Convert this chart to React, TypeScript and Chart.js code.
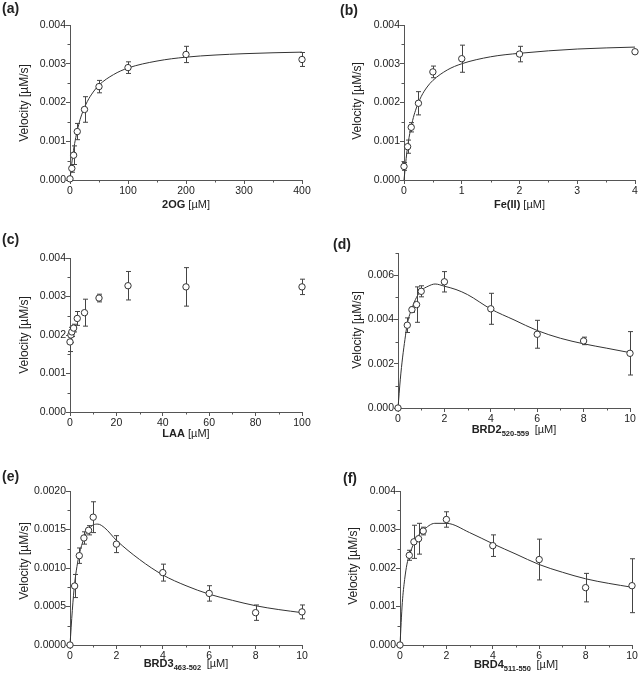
import { useEffect, useRef } from 'react'
import { Chart, registerables } from 'chart.js'

Chart.register(...registerables)

// (a) 2OG
const ogX = [0, 3.125, 6.25, 12.5, 25, 50, 100, 200, 400]
const ogV = [0.00003, 0.0003, 0.00064, 0.00125, 0.00182, 0.00241, 0.0029, 0.00324, 0.00311]
const ogSd = [0.00003, 0.0001, 0.00024, 0.00021, 0.00033, 0.00016, 0.00015, 0.00021, 0.00018]
const ogFitX = [0, 3, 6, 10, 15, 20, 30, 40, 50, 75, 100, 150, 200, 300, 400]
const ogFitV = [0, 0.00042, 0.00076, 0.0011, 0.00143, 0.00168, 0.00203, 0.00227, 0.00245, 0.00272, 0.00289, 0.00307, 0.00317, 0.00326, 0.0033]

// (b) Fe(II)
const feX = [0, 0.0625, 0.125, 0.25, 0.5, 1, 2, 4]
const feV = [0.00035, 0.00086, 0.00136, 0.00198, 0.00279, 0.00313, 0.00325, 0.00331]
const feSd = [0.0001, 0.00017, 0.00012, 0.0003, 0.00015, 0.00035, 0.0002, 0.00003]
const feFitX = [0, 0.05, 0.1, 0.15, 0.2, 0.3, 0.4, 0.5, 0.75, 1, 1.5, 2, 3, 4]
const feFitV = [0, 0.00072, 0.0012, 0.00154, 0.0018, 0.00216, 0.0024, 0.00257, 0.00284, 0.003, 0.00318, 0.00327, 0.00338, 0.00343]

// (c) LAA
const laaX = [0, 0.39, 0.78, 1.56, 3.125, 6.25, 12.5, 25, 50, 100]
const laaV = [0.00182, 0.002, 0.00208, 0.00218, 0.00243, 0.00258, 0.00296, 0.00328, 0.00325, 0.00325]
const laaSd = [0.00025, 0.0002, 0.00012, 0.0001, 0.00018, 0.00035, 0.0001, 0.00037, 0.0005, 0.0002]

// (d) BRD2 520-559
const brd2X = [0, 0.4, 0.6, 0.8, 1, 2, 4, 6, 8, 10]
const brd2V = [0, 0.00374, 0.00444, 0.00467, 0.00527, 0.0057, 0.00448, 0.00333, 0.00303, 0.00247]
const brd2Sd = [0, 0.00033, 0.00012, 0.0008, 0.00025, 0.00046, 0.0007, 0.00063, 0.00017, 0.00098]
const brd2FitX = [0, 0.1, 0.2, 0.3, 0.4, 0.6, 0.8, 1, 1.3, 1.6, 2, 2.5, 3, 4, 5, 6, 7, 8, 9, 10]
const brd2FitV = [0, 0.0013, 0.0023, 0.0031, 0.0038, 0.0045, 0.005, 0.0053, 0.0055, 0.0056, 0.0055, 0.00535, 0.00512, 0.00447, 0.00398, 0.0035, 0.00315, 0.0029, 0.0027, 0.0025]

// (e) BRD3 463-502
const brd3X = [0, 0.2, 0.4, 0.6, 0.8, 1, 2, 4, 6, 8, 10]
const brd3V = [0, 0.000766, 0.00116, 0.00139, 0.00149, 0.00166, 0.00131, 0.00094, 0.00067, 0.00042, 0.00043]
const brd3Sd = [0, 0.00015, 0.0001, 0.00008, 0.00006, 0.0002, 0.00011, 0.00011, 0.0001, 0.0001, 0.00009]
const brd3FitX = [0, 0.1, 0.2, 0.3, 0.4, 0.6, 0.8, 1, 1.2, 1.5, 2, 3, 4, 5, 6, 7, 8, 9, 10]
const brd3FitV = [0, 0.00045, 0.0008, 0.00102, 0.00118, 0.00138, 0.0015, 0.00156, 0.00157, 0.00152, 0.00136, 0.00111, 0.00091, 0.00077, 0.00066, 0.00058, 0.00051, 0.00046, 0.00042]

// (f) BRD4 511-550
const brd4X = [0, 0.4, 0.6, 0.8, 1, 2, 4, 6, 8, 10]
const brd4V = [0, 0.00233, 0.00268, 0.00276, 0.00296, 0.00326, 0.00258, 0.00222, 0.00149, 0.00154]
const brd4Sd = [0, 0.00013, 0.00043, 0.0004, 0.0001, 0.0002, 0.00028, 0.00053, 0.00037, 0.0007]
const brd4FitX = [0, 0.1, 0.2, 0.3, 0.4, 0.6, 0.8, 1, 1.5, 2, 3, 4, 5, 6, 7, 8, 9, 10]
const brd4FitV = [0, 0.0011, 0.0017, 0.0021, 0.00232, 0.00265, 0.00285, 0.00298, 0.00316, 0.00316, 0.00292, 0.00263, 0.00236, 0.00209, 0.00189, 0.00172, 0.0016, 0.0015]

// axis ticks
const x400 = [0, 100, 200, 300, 400]
const x400Minor = [50, 150, 250, 350]
const x4 = [0, 1, 2, 3, 4]
const x4Minor = [0.5, 1.5, 2.5, 3.5]
const x100 = [0, 20, 40, 60, 80, 100]
const x100Minor = [10, 30, 50, 70, 90]
const x10 = [0, 2, 4, 6, 8, 10]
const x10Minor = [1, 3, 5, 7, 9]
const y4 = [0, 0.001, 0.002, 0.003, 0.004]
const y4Minor = [0.0005, 0.0015, 0.0025, 0.0035]
const y7 = [0, 0.002, 0.004, 0.006]
const y7Minor = [0.001, 0.003, 0.005, 0.007]
const y2 = [0, 0.0005, 0.001, 0.0015, 0.002]
const y2Minor = [0.00025, 0.00075, 0.00125, 0.00175]

const FONT = '"Liberation Sans", Arial, sans-serif'
const AXIS = '#555'
const INK = '#222'

type PanelDef = {
  tag: string
  left: number; top: number; w: number; h: number
  area: [number, number, number, number]
  xs: number[]; vs: number[]; sds: number[]
  fitX?: number[]; fitV?: number[]
  xMax: number; xTicks: number[]; xMinor: number[]
  yMax: number; yTicks: number[]; yMinor: number[]; yDigits: number
  title: [string, string, string]
  titleY: number
  yTitle: [number, number]
  tagPos: [number, number]
}

const panels: PanelDef[] = [
  { tag: '(a)', left: 0, top: 0, w: 320, h: 220, area: [70, 25, 302, 180],
    xs: ogX, vs: ogV, sds: ogSd, fitX: ogFitX, fitV: ogFitV,
    xMax: 400, xTicks: x400, xMinor: x400Minor, yMax: 0.004, yTicks: y4, yMinor: y4Minor, yDigits: 3,
    title: ['2OG', '', ' [µM]'], titleY: 208, yTitle: [28, 103], tagPos: [2, 1] },
  { tag: '(b)', left: 320, top: 0, w: 320, h: 220, area: [84, 25, 316, 180],
    xs: feX, vs: feV, sds: feSd, fitX: feFitX, fitV: feFitV,
    xMax: 4, xTicks: x4, xMinor: x4Minor, yMax: 0.004, yTicks: y4, yMinor: y4Minor, yDigits: 3,
    title: ['Fe(II)', '', ' [µM]'], titleY: 208, yTitle: [41, 101], tagPos: [20, 2.5] },
  { tag: '(c)', left: 0, top: 220, w: 320, h: 230, area: [70, 38, 302, 192],
    xs: laaX, vs: laaV, sds: laaSd,
    xMax: 100, xTicks: x100, xMinor: x100Minor, yMax: 0.004, yTicks: y4, yMinor: y4Minor, yDigits: 3,
    title: ['LAA', '', ' [µM]'], titleY: 217, yTitle: [28, 115], tagPos: [2, 11.5] },
  { tag: '(d)', left: 320, top: 220, w: 320, h: 230, area: [78, 33, 310, 188],
    xs: brd2X, vs: brd2V, sds: brd2Sd, fitX: brd2FitX, fitV: brd2FitV,
    xMax: 10, xTicks: x10, xMinor: x10Minor, yMax: 0.007, yTicks: y7, yMinor: y7Minor, yDigits: 3,
    title: ['BRD2', '520-559', ' [µM]'], titleY: 213, yTitle: [41, 110], tagPos: [13, 16.5] },
  { tag: '(e)', left: 0, top: 450, w: 320, h: 228, area: [70, 41, 302, 195],
    xs: brd3X, vs: brd3V, sds: brd3Sd, fitX: brd3FitX, fitV: brd3FitV,
    xMax: 10, xTicks: x10, xMinor: x10Minor, yMax: 0.002, yTicks: y2, yMinor: y2Minor, yDigits: 4,
    title: ['BRD3', '463-502', ' [µM]'], titleY: 216.5, yTitle: [28, 111], tagPos: [2, 18.5] },
  { tag: '(f)', left: 320, top: 450, w: 320, h: 228, area: [80, 41, 312, 195],
    xs: brd4X, vs: brd4V, sds: brd4Sd, fitX: brd4FitX, fitV: brd4FitV,
    xMax: 10, xTicks: x10, xMinor: x10Minor, yMax: 0.004, yTicks: y4, yMinor: y4Minor, yDigits: 3,
    title: ['BRD4', '511-550', ' [µM]'], titleY: 217.5, yTitle: [37, 116], tagPos: [23, 20.5] },
]

const pts = (xs: number[], ys: number[]) => xs.map((x, i) => ({ x, y: ys[i] }))

function Panel({ p }: { p: PanelDef }) {
  const ref = useRef<HTMLCanvasElement>(null)

  useEffect(() => {
    if (!ref.current) return
    const [L, T, R, B] = p.area

    const extras = {
      id: 'extras',
      beforeDatasetDraw(chart: any, args: any) {
        if (args.index !== 0) return
        const { ctx, scales: { x, y } } = chart
        ctx.save()
        ctx.strokeStyle = '#444'
        ctx.lineWidth = 1
        p.xs.forEach((xv, i) => {
          const sd = p.sds[i]
          if (!sd) return
          const px = Math.round(x.getPixelForValue(xv)) + 0.5
          const y1 = y.getPixelForValue(p.vs[i] + sd)
          const y2 = y.getPixelForValue(p.vs[i] - sd)
          ctx.beginPath()
          ctx.moveTo(px, y1); ctx.lineTo(px, y2)
          ctx.moveTo(px - 2.5, y1); ctx.lineTo(px + 2.5, y1)
          ctx.moveTo(px - 2.5, y2); ctx.lineTo(px + 2.5, y2)
          ctx.stroke()
        })
        ctx.restore()
      },
      afterDraw(chart: any) {
        const { ctx, scales: { x, y }, chartArea } = chart
        ctx.save()
        // minor ticks
        ctx.strokeStyle = AXIS
        ctx.lineWidth = 1
        ctx.beginPath()
        p.xMinor.forEach(v => {
          const px = Math.round(x.getPixelForValue(v)) + 0.5
          ctx.moveTo(px, chartArea.bottom); ctx.lineTo(px, chartArea.bottom + 2.5)
        })
        p.yMinor.forEach(v => {
          const py = Math.round(y.getPixelForValue(v)) + 0.5
          ctx.moveTo(chartArea.left - 2.5, py); ctx.lineTo(chartArea.left, py)
        })
        ctx.stroke()

        // x title: bold name, bold subscript, regular unit
        ctx.fillStyle = INK
        ctx.textBaseline = 'alphabetic'
        ctx.textAlign = 'left'
        const parts = [
          { t: p.title[0], f: `bold 11px ${FONT}`, dy: 0 },
          { t: p.title[1], f: `bold 7.5px ${FONT}`, dy: 3 },
          { t: p.title[2], f: `11px ${FONT}`, dy: 0 },
        ]
        const gap = p.title[1] ? 2.5 : 0
        const widths = parts.map(q => { ctx.font = q.f; return q.t ? ctx.measureText(q.t).width : 0 })
        const total = widths.reduce((a, b) => a + b, 0) + gap
        let cx = (chartArea.left + chartArea.right) / 2 - total / 2
        parts.forEach((q, i) => {
          if (!q.t) return
          ctx.font = q.f
          ctx.fillText(q.t, cx, p.titleY + q.dy)
          cx += widths[i] + (i === 1 ? gap : 0)
        })

        // y title
        ctx.translate(p.yTitle[0], p.yTitle[1])
        ctx.rotate(-Math.PI / 2)
        ctx.font = `12px ${FONT}`
        ctx.textAlign = 'center'
        ctx.fillText('Velocity [µM/s]', 0, 0)
        ctx.restore()
      },
    }

    const datasets: any[] = [
      {
        data: pts(p.xs, p.vs),
        showLine: false,
        pointRadius: 3.2,
        pointBorderWidth: 1,
        pointBorderColor: '#333',
        pointBackgroundColor: '#fff',
        clip: false,
      },
    ]
    if (p.fitX && p.fitV) {
      datasets.push({
        data: pts(p.fitX, p.fitV),
        showLine: true,
        pointRadius: 0,
        borderColor: '#333',
        borderWidth: 1,
        cubicInterpolationMode: 'monotone',
        clip: false,
      })
    }

    const tickFont = { family: FONT, size: 10.5 }
    const chart = new Chart(ref.current, {
      type: 'scatter',
      data: { datasets },
      options: {
        responsive: false,
        animation: false,
        events: [],
        layout: { padding: { left: 0, top: T, right: p.w - R, bottom: 0 } },
        plugins: { legend: { display: false }, tooltip: { enabled: false } },
        scales: {
          x: {
            type: 'linear',
            min: 0,
            max: p.xMax,
            afterBuildTicks: (s: any) => { s.ticks = p.xTicks.map(value => ({ value })) },
            afterFit: (s: any) => { s.height = p.h - B },
            grid: { drawOnChartArea: false, drawTicks: true, tickLength: 4, tickColor: AXIS },
            border: { color: AXIS, width: 1 },
            ticks: { font: tickFont, color: INK, padding: 1, maxRotation: 0, autoSkip: false },
            title: { display: false },
          },
          y: {
            type: 'linear',
            min: 0,
            max: p.yMax,
            afterBuildTicks: (s: any) => { s.ticks = p.yTicks.map(value => ({ value })) },
            afterFit: (s: any) => { s.width = L },
            grid: { drawOnChartArea: false, drawTicks: true, tickLength: 4, tickColor: AXIS },
            border: { color: AXIS, width: 1 },
            ticks: {
              font: tickFont, color: INK, padding: 0, autoSkip: false,
              callback: (v: any) => Number(v).toFixed(p.yDigits),
            },
            title: { display: false },
          },
        },
      },
      plugins: [extras],
    } as any)
    return () => chart.destroy()
  }, [p])

  return (
    <div style={{ position: 'absolute', left: p.left, top: p.top, width: p.w, height: p.h }}>
      <canvas ref={ref} width={p.w} height={p.h} />
      <div style={{
        position: 'absolute', left: p.tagPos[0], top: p.tagPos[1],
        font: `bold 14px/14px ${FONT}`, color: INK,
      }}>{p.tag}</div>
    </div>
  )
}

export default function App() {
  return (
    <div style={{ position: 'absolute', left: 0, top: 0, width: 640, height: 678, background: '#fff' }}>
      {panels.map(p => <Panel key={p.tag} p={p} />)}
    </div>
  )
}
